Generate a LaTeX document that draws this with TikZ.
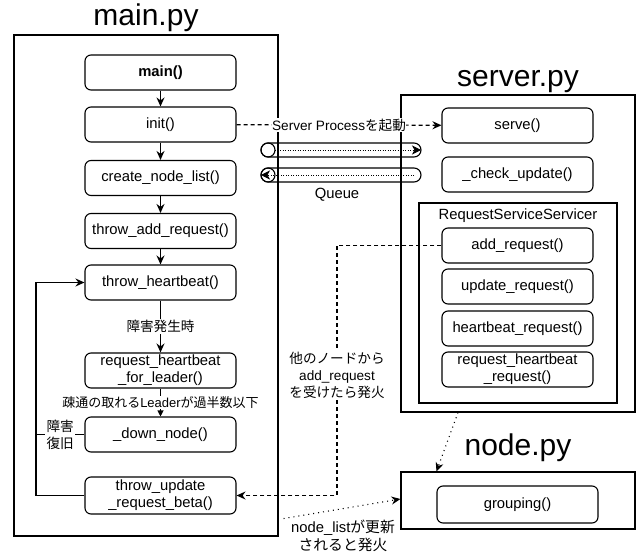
\documentclass[tikz,border=0pt]{standalone}
\usepackage{fontspec}
\setmainfont{Liberation Sans}
\newfontfamily\jp{Noto Sans CJK JP}
\usetikzlibrary{arrows.meta}

\begin{document}
\begin{tikzpicture}[x=1pt,y=-1pt,
  fn/.style={draw, rounded corners=6pt, minimum width=151pt, minimum height=35pt,
    align=center, inner sep=1pt, line width=1.1pt,
    font=\fontsize{14.8}{17}\selectfont},
  frame/.style={draw, line width=1.1pt, inner sep=0pt},
  title/.style={anchor=base, inner sep=0pt, font=\fontsize{30}{34}\selectfont},
  lbl/.style={fill=white, inner sep=1.5pt, align=center,
    font=\fontsize{13.6}{17}\selectfont},
  plain/.style={font=\fontsize{14.8}{17.5}\selectfont, inner sep=0pt, align=center},
  arr/.style={-{Stealth[length=9pt,width=8pt,inset=3pt]}},
  flow/.style={line width=1.1pt, arr},
  dashln/.style={line width=1.1pt, dash pattern=on 4pt off 3pt},
  dotln/.style={line width=1.1pt, dash pattern=on 1pt off 4pt},
]
\useasboundingbox (0,0) rectangle (639,553);

% ---- main.py ----
\node[title] (maint) at (146,26) {main.py};
\node[frame, minimum width=264pt, minimum height=501pt] (mainf) at (146,285.5) {};

\node[fn, font=\fontsize{14.8}{17}\selectfont\bfseries] (main) at (160.5,72.5) {main()};
\node[fn] (init)     at (160.5,124.5) {init()};
\node[fn] (create)   at (160.5,178)   {create\_node\_list()};
\node[fn] (throwadd) at (160.5,231)   {throw\_add\_request()};
\node[fn] (throwhb)  at (160.5,282.5) {throw\_heartbeat()};
\node[fn] (reqhb)    at (160.5,370.5) {request\_heartbeat\\\_for\_leader()};
\node[fn] (down)     at (160.5,434.5) {\_down\_node()};
\node[fn, minimum height=37pt] (throwupd) at (160.5,495.5) {throw\_update\\\_request\_beta()};

\draw[flow] (main) -- (init);
\draw[flow] (init) -- (create);
\draw[flow] (create) -- (throwadd);
\draw[flow] (throwadd) -- (throwhb);
\draw[flow] (throwhb) -- node[lbl] {\jp 障害発生時} (reqhb);
\draw[line width=1.1pt, -{Triangle[length=6pt,width=6pt]}] (reqhb) --
  node[lbl, inner sep=0.5pt, font=\fontsize{13}{16}\selectfont]
  {\jp 疎通の取れる{\rmfamily Leader}が過半数以下} (down);

% loop back to throw_heartbeat()
\coordinate (loopx) at (36,0);
\draw[flow] (throwupd.west) -- (throwupd.west -| loopx) |- (throwhb.west);
\draw[line width=1.1pt] (down.west) -- node[lbl] {\jp 障害\\\jp 復旧} (down.west -| loopx);

% ---- server.py ----
\node[title] (servert) at (518,86.5) {server.py};
\node[frame, minimum width=234pt, minimum height=317pt] (serverf) at (518,253.5) {};
\node[fn] (serve) at (517.5,125.5) {serve()};
\node[fn] (check) at (517.5,174.5) {\_check\_update()};
\node[frame, minimum width=198pt, minimum height=200pt] (rss) at (518,303) {};
\node[plain] (rsst) at (518,216) {RequestServiceServicer};
\node[fn] (addr)  at (517.5,245.5) {add\_request()};
\node[fn] (updr)  at (517.5,286.5) {update\_request()};
\node[fn] (hbr)   at (517.5,328.5) {heartbeat\_request()};
\node[fn] (rhbr)  at (517.5,369.5) {request\_heartbeat\\\_request()};

% ---- node.py ----
\node[title] (nodet) at (518,455) {node.py};
\node[frame, minimum width=234pt, minimum height=57pt] (nodef) at (518,500.5) {};
\node[fn, minimum width=161pt, minimum height=37pt] (grouping) at (517.5,504.5) {grouping()};

% ---- links between files ----
\draw[dashln, arr] (init) -- node[lbl, inner sep=0.5pt] {Server Process{\jp を起動}} (serve);

\coordinate (qx) at (337,0);
\draw[dashln, arr] (addr.west) -- (addr.west -| qx) -- (throwupd.east -| qx) -- (throwupd.east);
\node[lbl] (fire1) at (337,375) {\jp 他のノードから\\add\_request\\\jp を受けたら発火};

\draw[dotln, arr] ([xshift=-60pt]serverf.south) -- (nodef.north -| grouping.west);
\draw[dotln, arr] ([shift={(5,-18)}]mainf.south east) -- ([yshift=1.5pt]nodef.west);
\node[lbl, font=\fontsize{14.8}{18}\selectfont] (fire2) at (343,536)
  {node\_list{\jp が更新}\\\jp されると発火};

% ---- queue pipes ----
\draw[line width=1.1pt, rounded corners=7pt] (261,143) rectangle (421,157);
\draw[line width=1.1pt] (268,150) circle (7pt);
\draw[line width=0.8pt, dash pattern=on 1pt off 1.5pt, -{Stealth[length=9pt,width=9pt,inset=2.5pt]}] (275,150) -- (421,150);

\draw[line width=1.1pt, rounded corners=7pt] (261,168) rectangle (421,182);
\draw[line width=1.1pt] (268,175) circle (7pt);
\draw[line width=0.8pt, dash pattern=on 1pt off 1.5pt, -{Stealth[length=9pt,width=9pt,inset=2.5pt]}] (414,175) -- (261,175);
\node[plain] (queue) at (337,195) {Queue};
\end{tikzpicture}
\end{document}
